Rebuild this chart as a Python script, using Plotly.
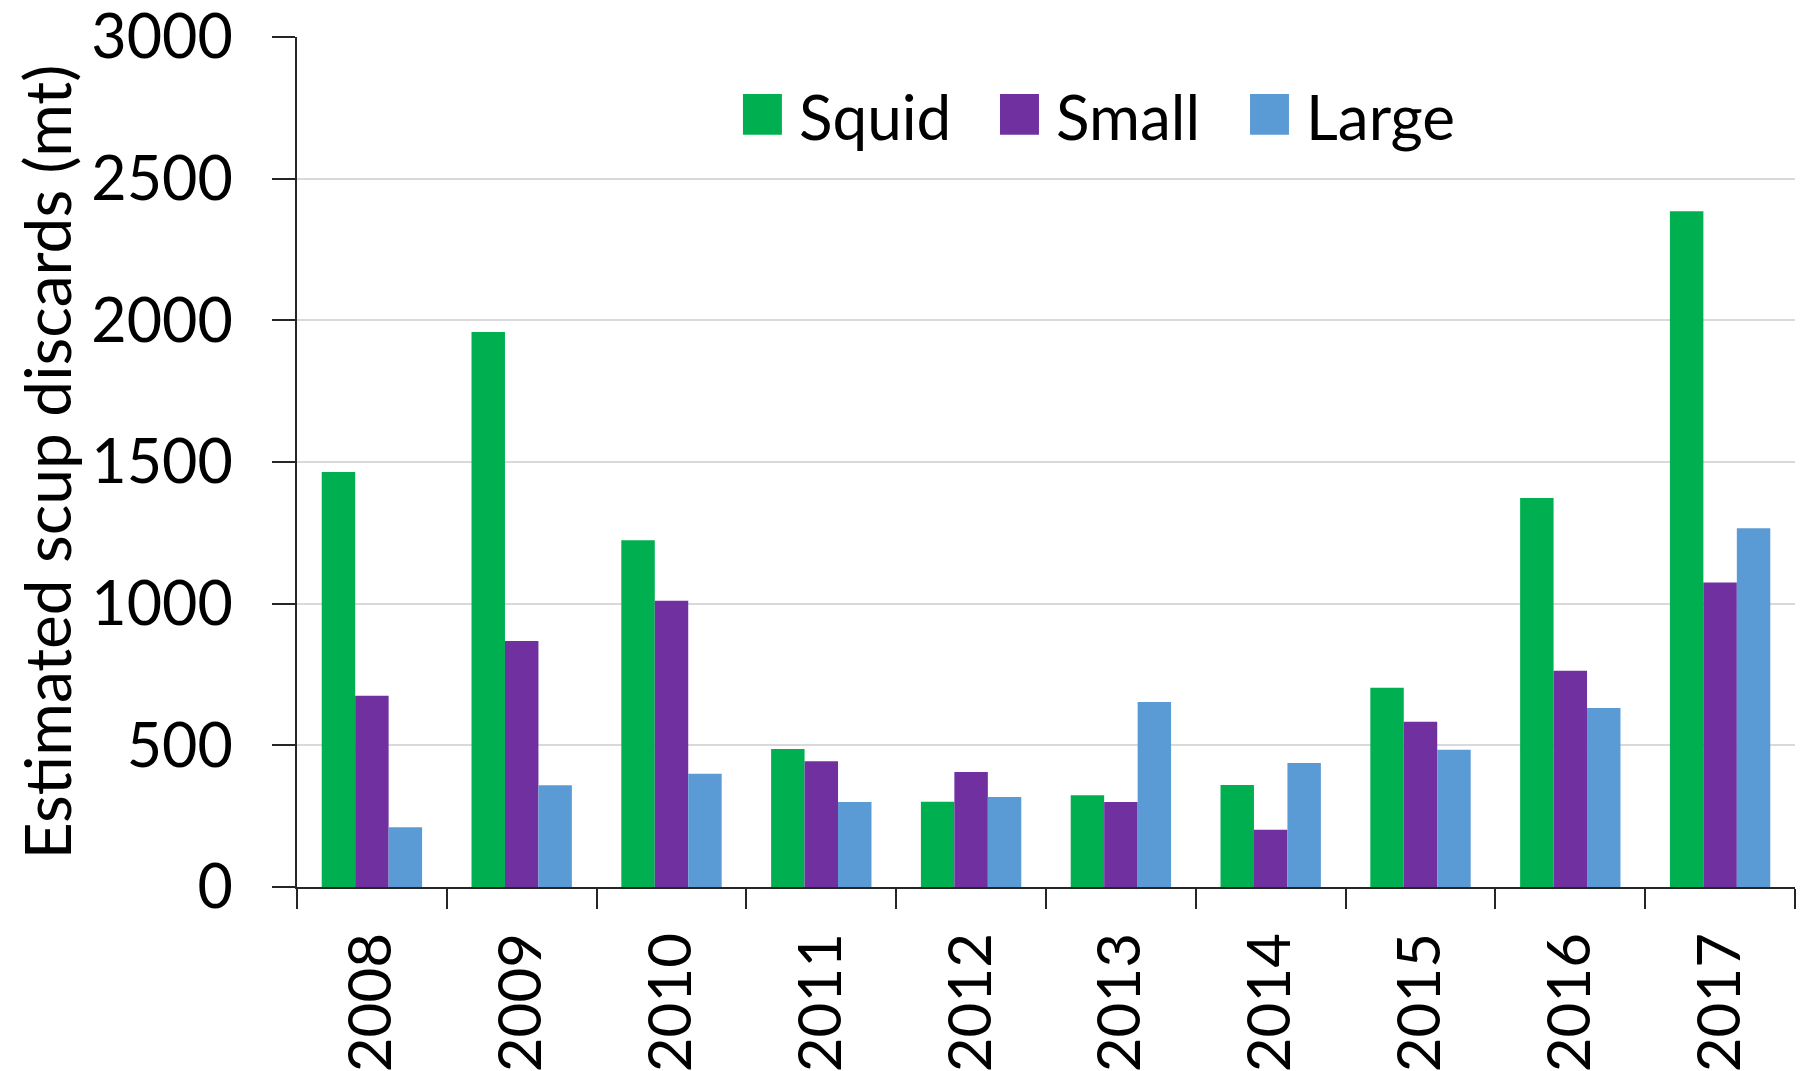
import plotly.graph_objects as go

years = ["2008", "2009", "2010", "2011", "2012", "2013", "2014", "2015", "2016", "2017"]
squid = [1465, 1959, 1224, 487, 301, 324, 360, 703, 1373, 2385]
small = [675, 868, 1010, 444, 406, 300, 202, 583, 763, 1075]
large = [211, 359, 400, 300, 318, 653, 438, 484, 632, 1266]

series_names = ["Squid", "Small", "Large"]
series_colors = ["#00B050", "#7030A0", "#5B9BD5"]
y_ticks = [0, 500, 1000, 1500, 2000, 2500, 3000]

FONT = "Lato, Carlito, Calibri, sans-serif"
AXIS_COLOR = "#262626"

fig = go.Figure()
for name, vals, col in zip(series_names, [squid, small, large], series_colors):
    fig.add_trace(go.Bar(
        x=years, y=vals, name=name,
        marker=dict(color=col, line=dict(width=0)),
        showlegend=False,
    ))

# ── légende dessinée à la main (pastilles carrées comme Excel) ──
legend_x = [0.2977, 0.4693, 0.6362]
for name, col, x0 in zip(series_names, series_colors, legend_x):
    fig.add_shape(type="rect", xref="paper", yref="paper",
                  x0=x0, x1=x0 + 0.026, y0=0.885, y1=0.933,
                  fillcolor=col, line=dict(width=0))
    fig.add_annotation(xref="paper", yref="paper", x=x0 + 0.036, y=0.907,
                       text=name, showarrow=False, xanchor="left", yanchor="middle",
                       font=dict(family=FONT, size=62, color="black"))

fig.update_xaxes(
    type="category",
    tickson="boundaries",
    ticks="outside", ticklen=20, tickwidth=2, tickcolor=AXIS_COLOR,
    showline=True, linecolor=AXIS_COLOR, linewidth=2,
    tickangle=-90,
    tickfont=dict(family=FONT, size=60, color="black"),
    ticklabelstandoff=20,
    ticklabeloverflow="allow",
    showgrid=False,
    automargin=False,
)
fig.update_yaxes(
    range=[0, 3000],
    tickvals=y_ticks,
    ticks="outside", ticklen=23, tickwidth=2, tickcolor=AXIS_COLOR,
    showline=True, linecolor=AXIS_COLOR, linewidth=2,
    tickfont=dict(family=FONT, size=61, color="black"),
    ticklabelstandoff=27,
    ticklabeloverflow="allow",
    showgrid=True, gridcolor="#D9D9D9", gridwidth=2,
    zeroline=False,
    title=dict(text="Estimated scup discards (mt)",
               font=dict(family=FONT, size=64, color="black"), standoff=22),
    automargin=False,
)
fig.update_layout(
    width=1799, height=1063,
    barmode="group", bargap=0.33, bargroupgap=0,
    plot_bgcolor="white", paper_bgcolor="white",
    margin=dict(l=289, r=12, t=29, b=184),
    font=dict(family=FONT, color="black"),
)
fig.write_html("out.html")
